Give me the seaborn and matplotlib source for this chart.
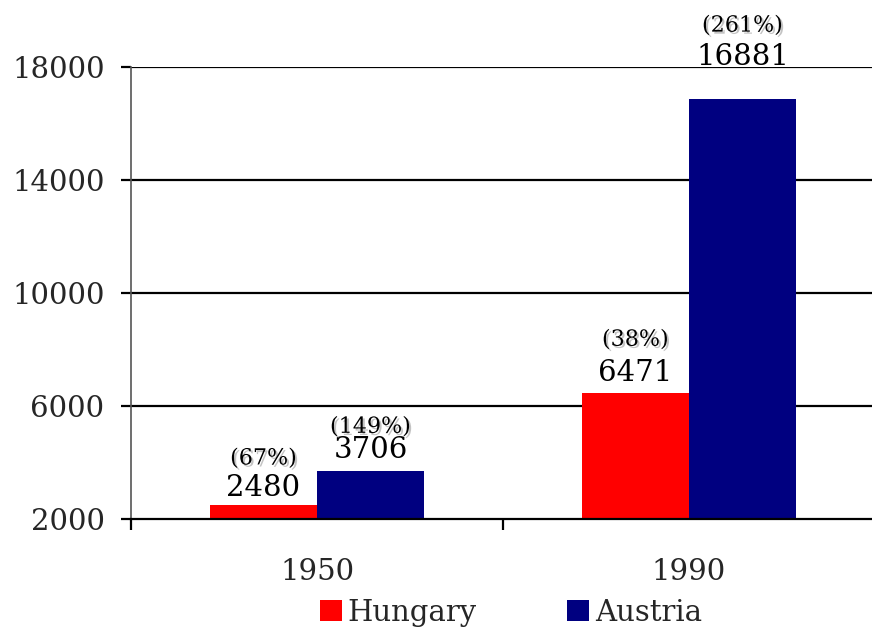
import pandas as pd
import seaborn as sns
import matplotlib
matplotlib.use('Agg')
import matplotlib.pyplot as plt
import matplotlib.patheffects as pe
from matplotlib.patches import Patch

# 数据
years = ['1950', '1990']
countries = ['Hungary', 'Austria']
hungary = [2480, 6471]
austria = [3706, 16881]
hungary_pct = ['(67%)', '(38%)']
austria_pct = ['(149%)', '(261%)']
colors = ['#FF0000', '#000080']

yticks = [2000, 6000, 10000, 14000, 18000]

sns.set_theme(style='white')
plt.rcParams['font.family'] = ['DejaVu Serif']

FS = 21

df = pd.DataFrame({
    'year': years * 2,
    'country': [countries[0]] * 2 + [countries[1]] * 2,
    'value': hungary + austria,
    'pct': hungary_pct + austria_pct,
})

fig = plt.figure(figsize=(8.72, 6.37), dpi=100)
ax = fig.add_axes([131 / 872, 0.1852, (875 - 131) / 872, 0.7096])

sns.barplot(data=df, x='year', y='value', hue='country', order=years,
            hue_order=countries, palette=colors, width=0.575,
            saturation=1, legend=False, linewidth=0, ax=ax)

ax.set_ylim(2000, 18000)
ax.set_xlim(-0.5, 1.5)
ax.set_yticks(yticks)
ax.set_yticklabels([str(t) for t in yticks], fontsize=FS)
ax.set_xticks([0, 1])
ax.set_xticklabels(years, fontsize=FS)
ax.set_xticks([-0.5, 0.5, 1.5], minor=True)
ax.tick_params(axis='x', which='major', length=0, pad=28, bottom=True)
ax.tick_params(axis='x', which='minor', length=8, width=1.6, color='black',
               direction='out', bottom=True)
ax.tick_params(axis='y', length=7, width=1.6, color='black', direction='out',
               pad=12, left=True)
ax.set_xlabel('')
ax.set_ylabel('')

for s in ['top', 'right']:
    ax.spines[s].set_visible(False)
ax.spines['left'].set_color('#555555')
ax.spines['left'].set_linewidth(1.2)
ax.spines['bottom'].set_color('black')
ax.spines['bottom'].set_linewidth(1.6)

for t in yticks[1:]:
    ax.axhline(t, color='black', lw=1.6, zorder=0.5)

# 数值标签(位置偏移,像素)
num_off = {'Hungary': [9, 12], 'Austria': [13, 34]}
pct_off = {'Hungary': [41, 47], 'Austria': [38, 67]}
shadow = [pe.withSimplePatchShadow(offset=(1.5, -1.5), shadow_rgbFace='#888888', alpha=0.5)]

for container, country in zip(ax.containers, countries):
    sub = df[df['country'] == country]
    for i, (bar, (_, row)) in enumerate(zip(container, sub.iterrows())):
        xc = bar.get_x() + bar.get_width() / 2
        top = bar.get_height()
        ax.annotate(f"{row['value']}", (xc, top), xytext=(0, num_off[country][i]),
                    textcoords='offset pixels', ha='center', va='baseline',
                    fontsize=FS, color='black', annotation_clip=False)
        ax.annotate(row['pct'], (xc, top), xytext=(0, pct_off[country][i]),
                    textcoords='offset pixels', ha='center', va='baseline',
                    fontsize=16, color='black', annotation_clip=False,
                    path_effects=shadow)

handles = [Patch(facecolor=c, edgecolor='none') for c in colors]
fig.legend(handles, countries, loc='center', bbox_to_anchor=(0.586, 0.038),
           ncol=2, frameon=False, fontsize=FS, handlelength=0.75,
           handleheight=0.75, handletextpad=0.2, columnspacing=3.1)

plt.savefig('out.png', dpi=100)
plt.close('all')
